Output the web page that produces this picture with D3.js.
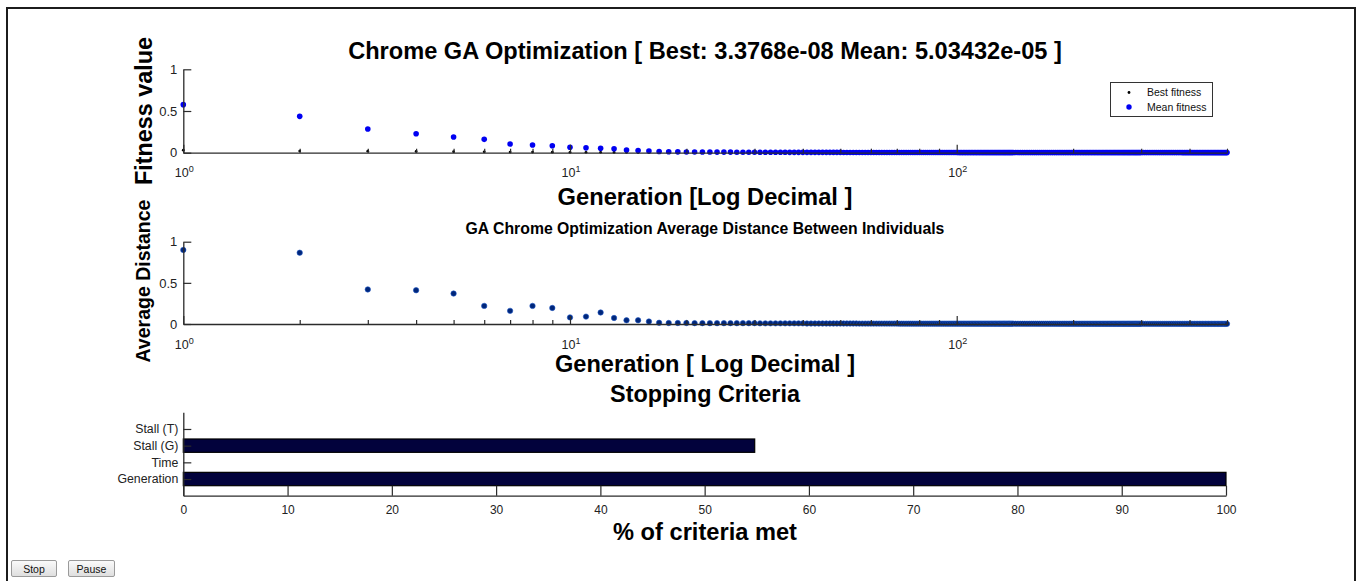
<!DOCTYPE html>
<html><head><meta charset="utf-8">
<script src="https://cdn.jsdelivr.net/npm/d3@7"></script>
<style>
html,body{margin:0;padding:0;background:#fff;}
svg{display:block;}
</style></head><body>
<svg id="fig" width="1360" height="581"></svg>
<script>
// Logged generations: every one up to 140, then every 2nd, then every 4th
const generations = [
  1,2,3,4,5,6,7,8,9,10,11,12,13,14,15,16,17,18,19,20,
  21,22,23,24,25,26,27,28,29,30,31,32,33,34,35,36,37,38,39,40,
  41,42,43,44,45,46,47,48,49,50,51,52,53,54,55,56,57,58,59,60,
  61,62,63,64,65,66,67,68,69,70,71,72,73,74,75,76,77,78,79,80,
  81,82,83,84,85,86,87,88,89,90,91,92,93,94,95,96,97,98,99,100,
  101,102,103,104,105,106,107,108,109,110,111,112,113,114,115,116,117,118,119,120,
  121,122,123,124,125,126,127,128,129,130,131,132,133,134,135,136,137,138,139,140,
  142,144,146,148,150,152,154,156,158,160,162,164,166,168,170,172,174,176,178,180,
  182,184,186,188,190,192,194,196,198,200,202,204,206,208,210,212,214,216,218,220,
  222,224,226,228,230,232,234,236,238,240,242,244,246,248,250,252,254,256,258,260,
  262,264,266,268,270,272,274,276,278,280,282,284,286,288,290,292,294,296,298,300,
  304,308,312,316,320,324,328,332,336,340,344,348,352,356,360,364,368,372,376,380,
  384,388,392,396,400,404,408,412,416,420,424,428,432,436,440,444,448,452,456,460,
  464,468,472,476,480,484,488,492,496,500
];
const bestFitness = [
  .030,.020,.018,.015,.012,.010,.008,.007,.006,.005,.004,.004,.003,.003,.002,.002,.002,.001,.001,.001,
  0,0,0,0,0,0,0,0,0,0,0,0,0,0,0,0,0,0,0,0,
  0,0,0,0,0,0,0,0,0,0,0,0,0,0,0,0,0,0,0,0,
  0,0,0,0,0,0,0,0,0,0,0,0,0,0,0,0,0,0,0,0,
  0,0,0,0,0,0,0,0,0,0,0,0,0,0,0,0,0,0,0,0,
  0,0,0,0,0,0,0,0,0,0,0,0,0,0,0,0,0,0,0,0,
  0,0,0,0,0,0,0,0,0,0,0,0,0,0,0,0,0,0,0,0,
  0,0,0,0,0,0,0,0,0,0,0,0,0,0,0,0,0,0,0,0,
  0,0,0,0,0,0,0,0,0,0,0,0,0,0,0,0,0,0,0,0,
  0,0,0,0,0,0,0,0,0,0,0,0,0,0,0,0,0,0,0,0,
  0,0,0,0,0,0,0,0,0,0,0,0,0,0,0,0,0,0,0,0,
  0,0,0,0,0,0,0,0,0,0,0,0,0,0,0,0,0,0,0,0,
  0,0,0,0,0,0,0,0,0,0,0,0,0,0,0,0,0,0,0,0,
  0,0,0,0,0,0,0,0,0,0
];
const meanFitness = [
  .576,.436,.284,.228,.188,.160,.104,.092,.084,.065,.058,.052,.047,.032,.027,.020,.014,.011,.010,.009,
  .009,.008,.008,.007,.007,.007,.006,.006,.006,.006,.005,.005,.005,.005,.005,.005,.004,.004,.004,.004,
  .004,.004,.004,.004,.004,.004,.004,.004,.004,.004,.003,.003,.003,.003,.003,.003,.003,.003,.003,.003,
  .003,.003,.003,.003,.003,.003,.003,.003,.003,.003,.003,.003,.003,.003,.003,.003,.003,.003,.003,.003,
  .003,.003,.003,.003,.003,.003,.003,.003,.003,.003,.003,.003,.003,.003,.003,.003,.003,.003,.003,.003,
  .002,.002,.002,.002,.002,.002,.002,.002,.002,.002,.002,.002,.002,.002,.002,.002,.002,.002,.002,.002,
  .002,.002,.002,.002,.002,.002,.002,.002,.002,.002,.002,.002,.002,.002,.002,.002,.002,.002,.002,.002,
  .002,.002,.002,.002,.002,.002,.002,.002,.002,.002,.002,.002,.002,.002,.002,.002,.002,.002,.002,.002,
  .002,.002,.002,.002,.002,.002,.002,.002,.002,.002,.002,.002,.002,.002,.002,.002,.002,.002,.002,.002,
  .002,.002,.002,.002,.002,.002,.002,.002,.002,.002,.002,.002,.002,.002,.002,.002,.002,.002,.002,.002,
  .002,.002,.002,.002,.002,.002,.002,.002,.002,.002,.002,.002,.002,.002,.002,.002,.002,.002,.002,.002,
  .002,.002,.002,.002,.002,.002,.002,.002,.002,.002,.002,.002,.002,.002,.002,.002,.002,.002,.002,.002,
  .001,.001,.001,.001,.001,.001,.001,.001,.001,.001,.001,.001,.001,.001,.001,.001,.001,.001,.001,.001,
  .001,.001,.001,.001,.001,.001,.001,.001,.001,.001
];
const avgDistance = [
  .900,.866,.420,.410,.370,.220,.160,.220,.195,.080,.090,.140,.073,.045,.045,.030,.015,.012,.012,.012,
  .010,.010,.010,.010,.010,.010,.010,.010,.010,.010,.008,.008,.008,.008,.008,.008,.008,.008,.008,.008,
  .006,.006,.006,.006,.006,.006,.006,.006,.006,.006,.006,.006,.006,.006,.006,.005,.005,.005,.005,.005,
  .005,.005,.005,.005,.005,.005,.005,.005,.005,.005,.004,.004,.004,.004,.004,.004,.004,.004,.004,.004,
  .004,.004,.004,.004,.004,.004,.004,.004,.004,.004,.004,.004,.004,.004,.004,.004,.004,.004,.004,.004,
  .004,.004,.004,.004,.004,.004,.004,.004,.004,.004,.004,.004,.004,.004,.004,.004,.004,.004,.004,.004,
  .004,.004,.004,.004,.004,.004,.004,.004,.004,.004,.004,.004,.004,.004,.004,.004,.004,.004,.004,.004,
  .003,.003,.003,.003,.003,.003,.003,.003,.003,.003,.003,.003,.003,.003,.003,.003,.003,.003,.003,.003,
  .003,.003,.003,.003,.003,.003,.003,.003,.003,.003,.003,.003,.003,.003,.003,.003,.003,.003,.003,.003,
  .003,.003,.003,.003,.003,.003,.003,.003,.003,.003,.003,.003,.003,.003,.003,.003,.003,.003,.003,.003,
  .003,.003,.003,.003,.003,.003,.003,.003,.003,.003,.003,.003,.003,.003,.003,.003,.003,.003,.003,.003,
  .002,.002,.002,.002,.002,.002,.002,.002,.002,.002,.002,.002,.002,.002,.002,.002,.002,.002,.002,.002,
  .002,.002,.002,.002,.002,.002,.002,.002,.002,.002,.002,.002,.002,.002,.002,.002,.002,.002,.002,.002,
  .002,.002,.002,.002,.002,.002,.002,.002,.002,.002
];

// Stopping criteria, bottom to top
const criteria = ["Generation", "Time", "Stall (G)", "Stall (T)"];
const criteriaMet = [100, 0, 54.8, 0];

const logMajorTicks = [1, 10, 100];
const logMinorTicks = [2,3,4,5,6,7,8,9,20,30,40,50,60,70,80,90,200,300,400,500];
const unitTicks = [0, 0.5, 1];
const percentTicks = [0,10,20,30,40,50,60,70,80,90,100];

const FONT = "'Liberation Sans', Arial, Helvetica, sans-serif";
const AXIS = "#2b2b2b";

const svg = d3.select("#fig");
svg.append("rect").attr("width", 1360).attr("height", 581).attr("fill", "#fff");
// window frame
svg.append("rect").attr("x", 7).attr("y", 8).attr("width", 1348).attr("height", 640)
  .attr("fill", "none").attr("stroke", "#1c1c1c").attr("stroke-width", 2);

// Scale a text element so that it spans the given width
function fitWidth(t, w) {
  const len = t.node().getComputedTextLength();
  const fs = parseFloat(t.attr("font-size"));
  t.attr("font-size", (fs * w / len).toFixed(2));
  return t;
}
function label(txt, x, y, size, w, opts = {}) {
  const t = svg.append("text").text(txt)
    .attr("x", x).attr("y", y).attr("font-family", FONT)
    .attr("font-weight", opts.weight || "bold").attr("font-size", size)
    .attr("text-anchor", "middle").attr("fill", opts.fill || "#000");
  if (opts.rotate) t.attr("transform", `rotate(-90, ${x}, ${y})`);
  if (w) fitWidth(t, w);
  return t;
}
function styleAxis(g, fs) {
  g.select(".domain").attr("stroke", AXIS).attr("stroke-width", 1.3);
  g.selectAll(".tick line").attr("stroke", AXIS).attr("stroke-width", 1.2);
  g.selectAll(".tick text").attr("fill", "#222").attr("font-family", FONT).attr("font-size", fs);
}

const xLog = d3.scaleLog().domain([1, 500]).range([183.3, 1227]);

function logPanel(y0, y1, drawDots) {
  const y = d3.scaleLinear().domain([0, 1]).range([y0, y1]);
  drawDots(y);
  const gMinor = svg.append("g").attr("transform", `translate(0,${y0})`)
    .call(d3.axisBottom(xLog).tickValues(logMinorTicks).tickSize(-4).tickSizeOuter(0).tickFormat(""));
  styleAxis(gMinor, 12);
  const gMajor = svg.append("g").attr("transform", `translate(0,${y0})`)
    .call(d3.axisBottom(xLog).tickValues(logMajorTicks).tickSize(-8).tickSizeOuter(0).tickFormat(""));
  styleAxis(gMajor, 12);
  gMajor.select(".domain").remove();
  // 10^n labels
  logMajorTicks.forEach(v => {
    const t = svg.append("text").attr("x", xLog(v) + 1).attr("y", y0 + 24.5)
      .attr("text-anchor", "middle").attr("font-family", FONT).attr("font-size", 12.5).attr("fill", "#222");
    t.append("tspan").text("10");
    t.append("tspan").text(Math.round(Math.log10(v))).attr("font-size", 9).attr("dy", -5);
  });
  const gy = svg.append("g").attr("transform", `translate(183.3,0)`)
    .call(d3.axisLeft(y).tickValues(unitTicks).tickSize(-8).tickSizeOuter(0).tickPadding(6)
      .tickFormat(d => d === 0 ? "0" : d === 1 ? "1" : "0.5"));
  styleAxis(gy, 13);
  return y;
}

// ---- Panel 1: fitness ----
label("Chrome GA Optimization [ Best: 3.3768e-08 Mean: 5.03432e-05 ]", 705, 58.5, 21, 714);
logPanel(152.7, 69.3, y => {
  const g = svg.append("g");
  g.selectAll("circle.best").data(generations).join("circle").attr("class", "best")
    .attr("cx", d => xLog(d)).attr("cy", (d, i) => y(bestFitness[i])).attr("r", 1.4).attr("fill", "#000");
  g.selectAll("circle.mean").data(generations).join("circle").attr("class", "mean")
    .attr("cx", d => xLog(d)).attr("cy", (d, i) => y(meanFitness[i])).attr("r", 2.8).attr("fill", "#0000f2");
});
label("Generation [Log Decimal ]", 705, 204.5, 22, 295);
label("Fitness value", 152, 111, 23, 148, { rotate: true });

// legend
const lg = svg.append("g");
lg.append("rect").attr("x", 1110.5).attr("y", 82.5).attr("width", 102).attr("height", 34)
  .attr("fill", "#fff").attr("stroke", "#333").attr("stroke-width", 1);
const legendItems = [
  { name: "Best fitness", r: 1.4, c: "#000" },
  { name: "Mean fitness", r: 2.7, c: "#0000f2" }
];
legendItems.forEach((it, i) => {
  const yy = 92.5 + i * 14.5;
  lg.append("circle").attr("cx", 1129).attr("cy", yy).attr("r", it.r).attr("fill", it.c);
  lg.append("text").attr("x", 1147).attr("y", yy + 3.6).attr("font-family", FONT)
    .attr("font-size", 10.5).attr("fill", "#111").text(it.name);
});

// ---- Panel 2: average distance ----
label("GA Chrome Optimization Average Distance Between Individuals", 705, 233.5, 14, 479);
logPanel(324, 241.7, y => {
  svg.append("g").selectAll("circle").data(generations).join("circle")
    .attr("cx", d => xLog(d)).attr("cy", (d, i) => y(avgDistance[i])).attr("r", 2.7)
    .attr("fill", "#00267a").attr("stroke", "#1d55c4").attr("stroke-width", 0.6);
});
label("Generation [ Log Decimal ]", 705, 371.5, 22, 300);
label("Average Distance", 150, 281, 18, 163, { rotate: true });

// ---- Panel 3: stopping criteria ----
label("Stopping Criteria", 705, 402, 21, 190);
const xPct = d3.scaleLinear().domain([0, 100]).range([183.3, 1226]);
const yPos = d3.scaleLinear().domain([0, 5]).range([495.7, 412.3]);
svg.append("g").selectAll("rect").data(criteriaMet).join("rect")
  .attr("x", xPct(0))
  .attr("y", (d, i) => yPos(i + 1.4))
  .attr("height", yPos(0) - yPos(0.8))
  .attr("width", d => xPct(d) - xPct(0))
  .attr("fill", d => d > 0 ? "#02023c" : "none")
  .attr("stroke", d => d > 0 ? "#000" : "none").attr("stroke-width", 1.2);
const gxp = svg.append("g").attr("transform", `translate(0,${yPos(0)})`)
  .call(d3.axisBottom(xPct).tickValues(percentTicks).tickSize(-10).tickSizeOuter(0).tickPadding(10));
styleAxis(gxp, 12);
const gyp = svg.append("g").attr("transform", `translate(183.3,0)`)
  .call(d3.axisLeft(yPos).tickValues([1, 2, 3, 4]).tickSize(-8).tickSizeOuter(0).tickPadding(5)
    .tickFormat(d => criteria[d - 1]));
styleAxis(gyp, 12.3);
label("% of criteria met", 705, 540, 21, 184);

// ---- control buttons ----
const defs = svg.append("defs");
const grad = defs.append("linearGradient").attr("id", "btn").attr("x1", 0).attr("x2", 0).attr("y1", 0).attr("y2", 1);
grad.append("stop").attr("offset", "0%").attr("stop-color", "#fbfbfb");
grad.append("stop").attr("offset", "100%").attr("stop-color", "#dedede");
[{ t: "Stop", x: 11, w: 45 }, { t: "Pause", x: 68, w: 46 }].forEach(b => {
  svg.append("rect").attr("x", b.x + 0.5).attr("y", 560.5).attr("width", b.w).attr("height", 16)
    .attr("rx", 1.5).attr("fill", "url(#btn)").attr("stroke", "#9a9a9a");
  svg.append("text").attr("x", b.x + b.w / 2 + 0.5).attr("y", 572.5).attr("text-anchor", "middle")
    .attr("font-family", FONT).attr("font-size", 10.5).attr("fill", "#111").text(b.t);
});
</script>
</body></html>
